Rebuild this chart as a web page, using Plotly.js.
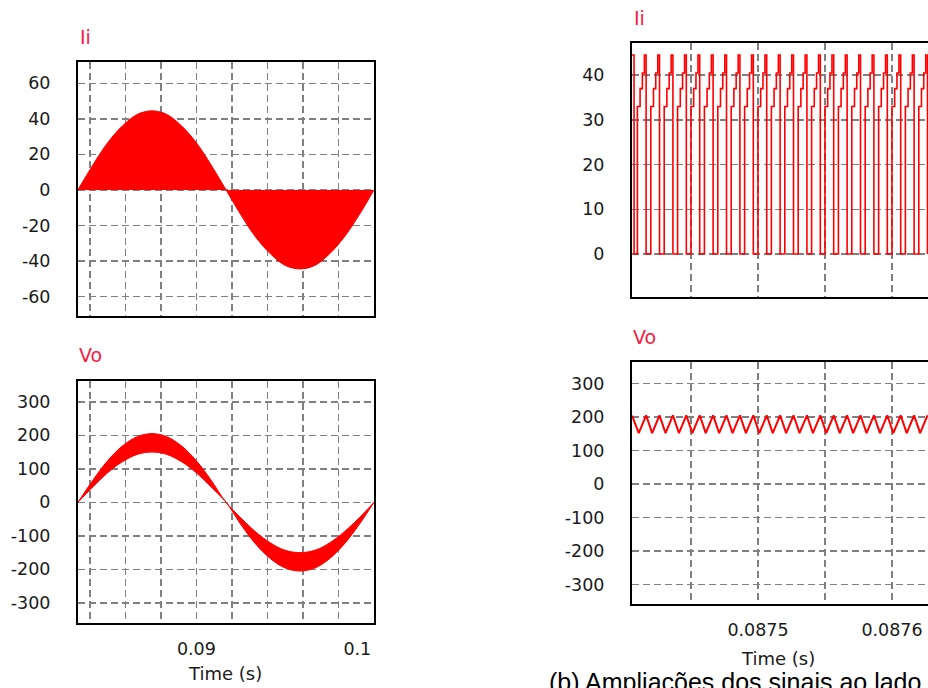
<!DOCTYPE html>
<html>
<head>
<meta charset="utf-8">
<script src="https://cdn.plot.ly/plotly-3.0.1.min.js"></script>
<style>
html,body{margin:0;padding:0;background:#fff;overflow:hidden;}
#chart{width:928px;height:688px;}
</style>
</head>
<body>
<div id="chart"></div>
<script>
// ---- Left panels: one full 60 Hz cycle (envelopes) ----
const tCycle = [0.08333, 0.08417, 0.08500, 0.08583, 0.08667, 0.08750, 0.08833, 0.08917, 0.09000, 0.09083, 0.09167,
                0.09250, 0.09333, 0.09417, 0.09500, 0.09583, 0.09667, 0.09750, 0.09833, 0.09917, 0.10000];
const iiEnvelope = [0, 14, 26.5, 36, 42.5, 44.5, 42.5, 36, 26.5, 14, 0,
                    -14, -26.5, -36, -42.5, -44.5, -42.5, -36, -26.5, -14, 0];
const voUpper = [0, 66, 124, 168, 196, 205, 196, 168, 124, 66, 0,
                 -46, -88, -121, -143, -150, -143, -121, -88, -46, 0];
const voLower = [0, 46, 88, 121, 143, 150, 143, 121, 88, 46, 0,
                 -66, -124, -168, -196, -205, -196, -168, -124, -66, 0];

// ---- Right panels: zoom around t = 0.0875 s ----
const riseTimes = [0.08741, 0.08742, 0.08743, 0.08744, 0.08745, 0.08746, 0.08747, 0.08748, 0.08749, 0.08750, 0.08751,
                   0.08752, 0.08753, 0.08754, 0.08755, 0.08756, 0.08757, 0.08758, 0.08759, 0.08760, 0.08761, 0.08762];
const iiStepOffsets = [0, 2.0e-6, 3.7e-6, 5.2e-6, 6.5e-6];
const iiStepLevels  = [33, 37, 40.5, 44.5, 0];
const iiStartTimes  = [0.087406, 0.0874075];
const iiStartLevels = [44.5, 0];
const voRippleOffsets = [1.0e-6, 6.5e-6];
const voRippleLevels  = [152, 205];
const voStartTimes  = [0.087406];
const voStartLevels = [204];

// tick labels
const leftXTicks  = [0.084, 0.086, 0.088, 0.090, 0.092, 0.094, 0.096, 0.098, 0.100];
const leftXText   = ['', '', '', '0.09', '', '', '', '', '0.1\u00a0\u00a0\u00a0\u00a0\u00a0\u00a0'];
const rightXTicks = [0.08745, 0.08750, 0.08755, 0.08760];
const rightXText  = ['', '0.0875', '', '0.0876'];
const iiLeftTicks  = [-60, -40, -20, 0, 20, 40, 60];
const iiLeftText   = ['-60', '-40', '-20', '0', '20', '40', '60'];
const iiRightTicks = [0, 10, 20, 30, 40];
const iiRightText  = ['0', '10', '20', '30', '40'];
const voTicks      = [-300, -200, -100, 0, 100, 200, 300];
const voText       = ['-300', '-200', '-100', '0', '100', '200', '300'];

// build step / ripple series from the read values
const iiZoomT = iiStartTimes.slice(), iiZoomV = iiStartLevels.slice();
riseTimes.forEach(r => { iiStepOffsets.forEach((o, k) => { iiZoomT.push(r + o); iiZoomV.push(iiStepLevels[k]); }); });
const voZoomT = voStartTimes.slice(), voZoomV = voStartLevels.slice();
riseTimes.forEach(r => { voRippleOffsets.forEach((o, k) => { voZoomT.push(r + o); voZoomV.push(voRippleLevels[k]); }); });

const RED = '#ff0000';
const W = 928, H = 688;
const px = x => x / W, py = y => 1 - y / H;

const traces = [
  {x: tCycle, y: iiEnvelope, xaxis: 'x', yaxis: 'y', type: 'scatter', mode: 'lines',
   line: {color: RED, width: 1, shape: 'spline'}, fill: 'tozeroy', fillcolor: RED},
  {x: tCycle, y: voUpper, xaxis: 'x2', yaxis: 'y2', type: 'scatter', mode: 'lines',
   line: {color: RED, width: 1, shape: 'spline'}},
  {x: tCycle, y: voLower, xaxis: 'x2', yaxis: 'y2', type: 'scatter', mode: 'lines',
   line: {color: RED, width: 1, shape: 'spline'}, fill: 'tonexty', fillcolor: RED},
  {x: iiZoomT, y: iiZoomV, xaxis: 'x3', yaxis: 'y3', type: 'scatter', mode: 'lines',
   line: {color: RED, width: 1.6, shape: 'hv'}},
  {x: voZoomT, y: voZoomV, xaxis: 'x4', yaxis: 'y4', type: 'scatter', mode: 'lines',
   line: {color: RED, width: 2}}
];

const tickFont = {family: 'DejaVu Sans', size: 17.5, color: '#1a1a1a'};
const grid = {showgrid: true, gridcolor: '#808080', gridwidth: 1.5, griddash: '7px,4px', zeroline: false,
              showline: true, linecolor: '#000', linewidth: 2, ticks: '', tickfont: tickFont, fixedrange: true};

function xa(domain, range, tv, tt, anchor, mirror) {
  return Object.assign({}, grid, {domain: domain, range: range, tickmode: 'array', tickvals: tv, ticktext: tt,
    anchor: anchor, mirror: mirror, ticklabelstandoff: 9});
}
function ya(domain, range, tv, tt, anchor, mirror) {
  return Object.assign({}, grid, {domain: domain, range: range, tickmode: 'array', tickvals: tv, ticktext: tt,
    anchor: anchor, mirror: mirror, ticklabelstandoff: 22});
}

const leftX = [px(78), px(374)];
const rightX = [px(632), 1];
const xLeftRange = [0.083333, 0.1];
const xRightRange = [0.08740597, 0.08762687];

const titleFont = {family: 'DejaVu Sans', size: 19, color: '#f52040'};
const axisTitleFont = {family: 'DejaVu Sans', size: 18, color: '#1a1a1a'};

const layout = {
  width: W, height: H, margin: {l: 0, r: 0, t: 0, b: 0},
  paper_bgcolor: '#fff', plot_bgcolor: '#fff', showlegend: false,
  xaxis:  xa(leftX,  xLeftRange,  leftXTicks,  leftXTicks.map(() => ''), 'y', true),
  yaxis:  ya([py(316), py(62)],  [-71, 72],   iiLeftTicks, iiLeftText, 'x', true),
  xaxis2: xa(leftX,  xLeftRange,  leftXTicks,  leftXText, 'y2', true),
  yaxis2: ya([py(623), py(381)], [-360, 362], voTicks, voText, 'x2', true),
  xaxis3: xa(rightX, xRightRange, rightXTicks, rightXTicks.map(() => ''), 'y3', true),
  yaxis3: ya([py(297), py(43)],  [-9.6, 47.2], iiRightTicks, iiRightText, 'x3', false),
  xaxis4: xa(rightX, xRightRange, rightXTicks, rightXText, 'y4', true),
  yaxis4: ya([py(604), py(362)], [-358, 364], voTicks, voText, 'x4', false),
  annotations: [
    {text: 'Ii', x: px(78), y: py(37), xref: 'paper', yref: 'paper', xanchor: 'left', yanchor: 'middle', showarrow: false, font: titleFont},
    {text: 'Vo', x: px(77), y: py(355), xref: 'paper', yref: 'paper', xanchor: 'left', yanchor: 'middle', showarrow: false, font: titleFont},
    {text: 'Ii', x: px(632), y: py(18), xref: 'paper', yref: 'paper', xanchor: 'left', yanchor: 'middle', showarrow: false, font: titleFont},
    {text: 'Vo', x: px(631), y: py(337), xref: 'paper', yref: 'paper', xanchor: 'left', yanchor: 'middle', showarrow: false, font: titleFont},
    {text: 'Time (s)', x: px(225), y: py(673), xref: 'paper', yref: 'paper', xanchor: 'center', yanchor: 'middle', showarrow: false, font: axisTitleFont},
    {text: 'Time (s)', x: px(778), y: py(658), xref: 'paper', yref: 'paper', xanchor: 'center', yanchor: 'middle', showarrow: false, font: axisTitleFont},
    {text: '(b) Ampliações dos sinais ao lado', x: px(547), y: py(682), xref: 'paper', yref: 'paper', xanchor: 'left', yanchor: 'middle', showarrow: false,
     font: {family: 'Liberation Sans, Arial', size: 25, color: '#000'}}
  ]
};

Plotly.newPlot('chart', traces, layout, {displayModeBar: false, staticPlot: true});
</script>
</body>
</html>
